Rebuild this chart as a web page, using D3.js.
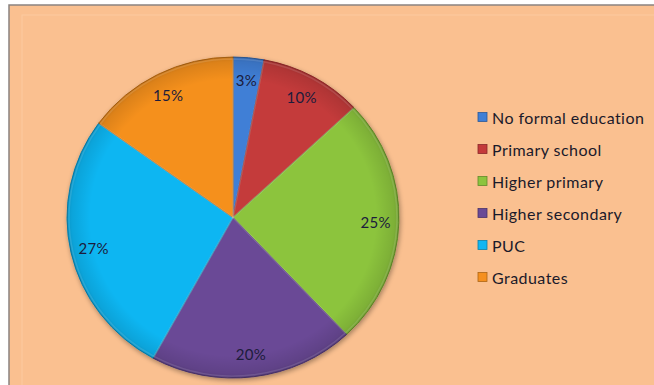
<!DOCTYPE html>
<html>
<head>
<meta charset="utf-8">
<script src="https://cdn.jsdelivr.net/npm/d3@7"></script>
<style>
  html, body { margin: 0; padding: 0; background: #ffffff; }
  svg { display: block; }
</style>
</head>
<body>
<svg id="chart" width="654" height="385"></svg>
<script>
// Education level distribution
const categories = ["No formal education", "Primary school", "Higher primary", "Higher secondary", "PUC", "Graduates"];
const values = [3, 10, 25, 20, 27, 15];
const colors = ["#3f7fd6", "#c43a3a", "#8cc43e", "#6a4a96", "#10b6f2", "#f5901f"];

const W = 654, H = 385;
const svg = d3.select("#chart");

// Chart area with a grey frame
svg.append("rect")
  .attr("x", 9).attr("y", 5).attr("width", W + 10).attr("height", H + 10)
  .attr("fill", "#fac090").attr("stroke", "#8a8380").attr("stroke-width", 1.5);
svg.append("rect")
  .attr("x", 22).attr("y", 15).attr("width", W + 10).attr("height", H + 10)
  .attr("fill", "none").attr("stroke", "#fcca9f").attr("stroke-width", 1);

const defs = svg.append("defs");
const shadow = defs.append("filter").attr("id", "shadow")
  .attr("x", "-10%").attr("y", "-10%").attr("width", "120%").attr("height", "120%");
shadow.append("feGaussianBlur").attr("in", "SourceAlpha").attr("stdDeviation", 2.5).attr("result", "b");
shadow.append("feOffset").attr("in", "b").attr("dx", 1).attr("dy", 2).attr("result", "o");
shadow.append("feComponentTransfer").attr("in", "o").attr("result", "s")
  .append("feFuncA").attr("type", "linear").attr("slope", 0.35);
const merge = shadow.append("feMerge");
merge.append("feMergeNode").attr("in", "s");
merge.append("feMergeNode").attr("in", "SourceGraphic");

// Soft rim shading for the bevelled look
const rim = defs.append("radialGradient").attr("id", "rim")
  .attr("cx", "50%").attr("cy", "50%").attr("r", "50%");
rim.append("stop").attr("offset", "0.86").attr("stop-color", "#000").attr("stop-opacity", 0);
rim.append("stop").attr("offset", "0.97").attr("stop-color", "#000").attr("stop-opacity", 0.10);
rim.append("stop").attr("offset", "1").attr("stop-color", "#000").attr("stop-opacity", 0.18);

const cx = 233, cy = 217.5, r = 166, squash = 160.5 / 166;

const pie = d3.pie().sort(null).value(d => d)(values);
const arc = d3.arc().innerRadius(0).outerRadius(r);
const labelArc = d3.arc().innerRadius(r * 0.86).outerRadius(r * 0.86);

const g = svg.append("g")
  .attr("transform", `translate(${cx},${cy}) scale(1,${squash})`);

const slices = g.append("g").attr("filter", "url(#shadow)");
slices.selectAll("path.slice")
  .data(pie)
  .join("path")
  .attr("class", "slice")
  .attr("d", arc)
  .attr("fill", (d, i) => colors[i])
  .attr("stroke", (d, i) => d3.color(colors[i]).darker(0.9))
  .attr("stroke-width", 1);

g.append("circle")
  .attr("r", r)
  .attr("fill", "url(#rim)")
  .attr("pointer-events", "none");

// Inner edge highlights
g.selectAll("path.hl")
  .data(pie)
  .join("path")
  .attr("class", "hl")
  .attr("d", d3.arc().innerRadius(0).outerRadius(r - 2))
  .attr("fill", "none")
  .attr("stroke", "#ffffff")
  .attr("stroke-opacity", 0.12)
  .attr("stroke-width", 1.5);

// Percentage labels
svg.append("g")
  .selectAll("text")
  .data(pie)
  .join("text")
  .attr("x", d => cx + labelArc.centroid(d)[0])
  .attr("y", d => cy + labelArc.centroid(d)[1] * squash)
  .attr("text-anchor", "middle")
  .attr("dominant-baseline", "central")
  .attr("font-family", "Lato, 'Open Sans', sans-serif")
  .attr("font-size", 15)
  .attr("letter-spacing", 0.3)
  .attr("fill", "#1c1c3c")
  .text(d => d.data + "%");

// Legend
const legend = svg.append("g");
const rowY = d3.scalePoint().domain(categories).range([117, 277]);
const item = legend.selectAll("g")
  .data(categories)
  .join("g")
  .attr("transform", d => `translate(478,${rowY(d)})`);
item.append("rect")
  .attr("x", 0).attr("y", -4.5).attr("width", 9).attr("height", 9)
  .attr("fill", (d, i) => colors[i])
  .attr("stroke", (d, i) => d3.color(colors[i]).darker(1))
  .attr("stroke-width", 0.8);
item.append("text")
  .attr("x", 14)
  .attr("y", 0)
  .attr("dominant-baseline", "central")
  .attr("font-family", "Lato, 'Open Sans', sans-serif")
  .attr("font-size", 16)
  .attr("letter-spacing", 0.45)
  .attr("fill", "#1a1a2a")
  .text(d => d);
</script>
</body>
</html>
